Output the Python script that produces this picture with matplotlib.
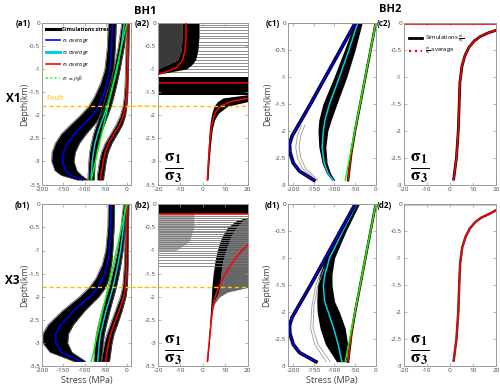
import numpy as np
import matplotlib.pyplot as plt
from matplotlib.patches import ConnectionPatch
from matplotlib.lines import Line2D

plt.rcParams['font.family'] = ['Open Sans', 'DejaVu Sans']
plt.rcParams['mathtext.fontset'] = 'stix'
plt.rcParams['axes.unicode_minus'] = False

FAULT_DEPTH = -1.8

# ---------------- BH1 / X1 : stresses (a1) ----------------
a1_d = [0, -0.5, -1.0, -1.3, -1.6, -1.8, -2.0, -2.2, -2.4, -2.6, -2.8, -3.0, -3.2, -3.3, -3.4]
a1_s1 = [-34, -36, -40, -47, -57, -66, -82, -103, -124, -140, -150, -152, -145, -132, -105]
a1_s1_lo = [-44, -46, -52, -62, -77, -90, -110, -133, -155, -169, -177, -178, -170, -155, -118]
a1_s1_hi = [-25, -27, -31, -36, -43, -50, -61, -77, -96, -112, -122, -125, -118, -107, -92]
a1_s2 = [-6, -13, -23, -31, -40, -46, -54, -62, -69, -75, -79, -82, -83, -84, -84]
a1_s2_lo = [-12, -20, -31, -40, -50, -56, -64, -72, -79, -84, -88, -90, -91, -92, -92]
a1_s2_hi = [0, -6, -16, -23, -31, -37, -45, -53, -61, -67, -72, -75, -76, -77, -77]
a1_s3 = [3, 2, 1, 0, -1, -3, -8, -17, -30, -43, -51, -56, -59, -61, -62]
a1_s3_lo = [-1, -2, -3, -4, -6, -9, -15, -25, -38, -51, -60, -65, -68, -70, -70]
a1_s3_hi = [6, 5, 4, 3, 2, 0, -3, -10, -22, -35, -44, -49, -52, -54, -55]

# ---------------- BH1 / X3 : stresses (b1) ----------------
b1_d = [0, -0.5, -1.0, -1.3, -1.6, -1.8, -2.0, -2.3, -2.6, -2.8, -3.0, -3.2, -3.4]
b1_s1 = [-37, -38, -41, -46, -56, -68, -88, -125, -155, -168, -168, -155, -108]
b1_s1_lo = [-44, -45, -50, -58, -73, -89, -112, -152, -186, -199, -199, -182, -125]
b1_s1_hi = [-29, -30, -33, -36, -42, -50, -66, -99, -126, -138, -140, -130, -97]
b1_s2 = [-3, -8, -15, -21, -28, -33, -39, -49, -57, -62, -65, -67, -69]
b1_s2_lo = [-8, -14, -22, -29, -37, -42, -49, -59, -67, -72, -75, -77, -78]
b1_s2_hi = [1, -3, -9, -14, -20, -25, -31, -40, -48, -53, -56, -58, -60]
b1_s3 = [1, 0, -1, -1, -2, -3, -7, -18, -30, -38, -43, -47, -50]
b1_s3_lo = [-3, -4, -5, -6, -8, -10, -15, -27, -39, -47, -53, -57, -60]
b1_s3_hi = [5, 4, 3, 3, 2, 1, -2, -11, -22, -30, -35, -38, -41]

# sigma_v = rho*g*h, read at the two ends
sv_d_bh1 = [0, -3.4]
sv_bh1 = [0, -84]
sv_d_bh2 = [0, -2.92]
sv_bh2 = [0, -74]

# ---------------- BH1 ratio sigma1/sigma3 (a2) ----------------
a2_top_d = [0, -0.3, -0.6, -0.8, -0.9, -1.0, -1.12]
a2_top_left = [-20, -20, -20, -20, -20, -20, -20]
a2_top_lo = [-9, -9, -9.5, -11, -15, -20, -20]
a2_top_hi = [-1.5, -1.5, -2, -3, -4.5, -7, -20]
a2_avg_top_d = [0, -0.3, -0.6, -0.8, -0.95, -1.05, -1.1]
a2_avg_top = [-7.5, -7.5, -8, -9, -11.5, -16, -20]
a2_inf = [-0.04, -0.09, -0.14, -0.2, -0.27, -0.33, -0.4, -0.47, -0.52, -0.6,
          -0.66, -0.73, -0.8, -0.86, -0.93, -0.99, -1.05]
a2_band = (-1.16, -1.56)
a2_avg_inf = -1.3
a2_bot_d = [-1.55, -1.62, -1.7, -1.8, -1.95, -2.1, -2.3, -2.6, -3.0, -3.4]
a2_bot_lo = [20, 9, 6.5, 5, 4, 3.4, 2.9, 2.5, 2.0, 1.6]
a2_bot_hi = [20, 20, 20, 11, 7, 5.2, 4.2, 3.5, 2.8, 2.3]
a2_avg_d = [-1.63, -1.7, -1.8, -1.9, -2.0, -2.2, -2.5, -3.0, -3.4]
a2_avg = [20, 12.5, 8, 6, 5, 4, 3.2, 2.5, 2]

# ---------------- BH1 / X3 ratio (b2) ----------------
b2_band = (0, -0.2)
b2_avg_inf = -0.22
b2_inf = [-0.26, -0.3, -0.34, -0.38, -0.42, -0.46, -0.5, -0.53, -0.57, -0.61,
          -0.65, -0.69, -0.73, -0.77, -0.81, -0.85, -0.9, -0.95, -1.0, -1.05,
          -1.1, -1.15, -1.2, -1.26, -1.33]
b2_fan_d = [-0.28, -0.35, -0.5, -0.7, -0.9, -1.2, -1.5, -1.8, -1.9, -2.0, -2.15, -2.3, -2.6, -3.0, -3.4]
b2_fan_lo = [20, 15, 11, 8.5, 7, 5.5, 4.6, 4.0, 3.9, 3.8, 3.6, 3.4, 3.0, 2.4, 1.6]
b2_fan_mid = [20, 18, 15, 12.5, 11, 9, 8, 7.5, 7, 6, 4.8, 4.0, 3.5, 2.8, 2.1]
b2_fan_hi = [20, 20, 20, 20, 20, 20, 20, 20, 11, 7.5, 5.2, 4.3, 3.6, 2.9, 2.2]
b2_avg_d = [-0.88, -1.0, -1.2, -1.5, -1.8, -2.0, -2.2, -2.5, -3.0, -3.4]
b2_avg = [20, 17.5, 14, 10, 7, 5.5, 4.5, 3.8, 2.8, 2]
b2_loop_d = [-0.2, -0.5, -0.8, -1.0]
b2_loop_hi = [-4, -4, -6, -12]

# ---------------- BH2 / X1 : stresses (c1) ----------------
c1_s1_d = [0, -0.5, -1.0, -1.5, -1.9, -2.1, -2.25, -2.4, -2.6, -2.75, -2.92]
c1_s1 = [-50, -86, -122, -158, -188, -203, -209, -208, -200, -185, -150]
c1_s2_d = [0, -0.5, -1.0, -1.5, -1.8, -2.0, -2.3, -2.6, -2.8, -2.92]
c1_s2 = [-44, -65, -88, -112, -123, -127, -130, -125, -115, -103]
c1_s2_lo = [-52, -76, -101, -128, -138, -140, -138, -130, -119, -106]
c1_s2_hi = [-33, -50, -70, -94, -108, -116, -121, -118, -109, -99]
c1_gray_d = [-1.9, -2.1, -2.3, -2.5, -2.7, -2.92]
c1_gray = [[-180, -190, -194, -190, -178, -145], [-172, -182, -186, -182, -170, -140]]
c1_s3_d = [0, -1.0, -2.0, -2.4, -2.92]
c1_s3 = [0, -25, -50, -59, -67]

# ---------------- BH2 / X3 : stresses (d1) ----------------
d1_s1 = [-50, -86, -122, -158, -188, -203, -209, -208, -200, -185, -145]
d1_s2_d = [0, -0.5, -1.0, -1.3, -1.5, -1.8, -2.0, -2.3, -2.6, -2.92]
d1_s2 = [-46, -80, -112, -123, -127, -124, -115, -102, -91, -82]
d1_s2_lo = [-52, -88, -122, -136, -141, -143, -142, -135, -122, -95]
d1_s2_hi = [-40, -72, -100, -106, -106, -100, -88, -74, -68, -72]
d1_gray_d = [-1.2, -1.5, -1.9, -2.3, -2.6, -2.92]
d1_gray = [[-125, -140, -150, -152, -140, -110], [-130, -145, -155, -158, -148, -120]]

# ---------------- BH2 ratio (c2, d2) ----------------
c2_d = [-2.9, -2.5, -2.0, -1.5, -1.1, -0.8, -0.6, -0.45, -0.33, -0.25, -0.18, -0.13]
c2_avg = [1.6, 2.8, 3.6, 4.0, 4.3, 5.2, 6.5, 8.2, 10.5, 13, 16.5, 20]
c2_inf = -0.02
d2_d = [-2.9, -2.5, -2.0, -1.5, -1.1, -0.8, -0.6, -0.45, -0.33, -0.25, -0.18, -0.11]
d2_avg = [1.6, 2.8, 3.6, 4.0, 4.4, 5.3, 6.8, 8.6, 11, 13.5, 17, 20]

BLUE = '#0000ff'
CYAN = '#00d0e0'
RED = '#ff0000'
GREEN = '#00ff00'
FAULT = '#ffc000'
AXC = '#9a9a9a'
TXC = '#404040'

fig = plt.figure(figsize=(5.0, 3.91), dpi=100)


def make_ax(rect, xlim, ylim, xticks, yticks):
    ax = fig.add_axes(rect)
    ax.set_xlim(xlim)
    ax.set_ylim(ylim)
    ax.set_xticks(xticks)
    ax.set_yticks(yticks)
    ax.set_xticklabels(['%g' % t for t in xticks])
    ax.set_yticklabels(['%g' % t for t in yticks])
    ax.tick_params(direction='in', length=2, width=0.5, colors=AXC,
                   labelcolor=TXC, labelsize=4.6, pad=1.5, top=True, right=True)
    for s in ax.spines.values():
        s.set_color(AXC)
        s.set_linewidth(0.7)
    return ax


def bundle(ax, d, lo, hi, avg, col):
    ax.fill_betweenx(d, lo, hi, color='black', lw=0)
    ax.plot(lo, d, color='#555555', lw=0.5)
    ax.plot(hi, d, color='#555555', lw=0.5)
    ax.plot(avg, d, color=col, lw=1.1)


W, H = 500.0, 391.0
top_a, bot_a = 23.3, 184.5
top_b, bot_b = 204.3, 366.0
rect = lambda x0, x1, y0, y1: [x0 / W, 1 - y1 / H, (x1 - x0) / W, (y1 - y0) / H]

st_ticks = [-200, -150, -100, -50, 0]
r_ticks = [-20, -10, 0, 10, 20]
y35 = [-3.5, -3, -2.5, -2, -1.5, -1, -0.5, 0]
y3 = [-3, -2.5, -2, -1.5, -1, -0.5, 0]

ax_a1 = make_ax(rect(42.3, 131, top_a, bot_a), (-200, 10), (-3.5, 0), st_ticks, y35)
ax_a2 = make_ax(rect(158, 247.7, top_a, bot_a), (-20, 20), (-3.5, 0), r_ticks, y35)
ax_b1 = make_ax(rect(42.3, 131, top_b, bot_b), (-200, 10), (-3.5, 0), st_ticks, y35)
ax_b2 = make_ax(rect(158, 247.7, top_b, bot_b), (-20, 20), (-3.5, 0), r_ticks, y35)
ax_c1 = make_ax(rect(288.3, 375.7, top_a, bot_a), (-212, 0), (-3, 0), st_ticks, y3)
ax_c2 = make_ax(rect(404, 496, top_a, bot_a), (-20, 20), (-3, 0), r_ticks, y3)
ax_d1 = make_ax(rect(288.3, 375.7, top_b, bot_b), (-212, 0), (-3, 0), st_ticks, y3)
ax_d2 = make_ax(rect(404, 496, top_b, bot_b), (-20, 20), (-3, 0), r_ticks, y3)

# ---- a1 ----
bundle(ax_a1, a1_d, a1_s1_lo, a1_s1_hi, a1_s1, BLUE)
bundle(ax_a1, a1_d, a1_s2_lo, a1_s2_hi, a1_s2, CYAN)
bundle(ax_a1, a1_d, a1_s3_lo, a1_s3_hi, a1_s3, RED)
ax_a1.plot(sv_bh1, sv_d_bh1, color=GREEN, lw=1.0)

# ---- b1 ----
bundle(ax_b1, b1_d, b1_s1_lo, b1_s1_hi, b1_s1, BLUE)
bundle(ax_b1, b1_d, b1_s2_lo, b1_s2_hi, b1_s2, CYAN)
bundle(ax_b1, b1_d, b1_s3_lo, b1_s3_hi, b1_s3, RED)
ax_b1.plot(sv_bh1, sv_d_bh1, color=GREEN, lw=1.0)

# ---- a2 ----
for y in a2_inf:
    ax_a2.axhline(y, color='#7a7a7a', lw=0.6, zorder=1)
ax_a2.fill_betweenx(a2_top_d, a2_top_left, a2_top_lo, facecolor='#3a3a3a',
                    edgecolor='none', zorder=2)
ax_a2.fill_betweenx(a2_top_d, a2_top_lo, a2_top_hi, facecolor='black',
                    edgecolor='none', zorder=2)
ax_a2.axhspan(a2_band[1], a2_band[0], color='black', lw=0)
ax_a2.fill_betweenx(a2_bot_d, a2_bot_lo, a2_bot_hi, color='black', lw=0)
ax_a2.plot(a2_avg_top, a2_avg_top_d, color=RED, lw=1.1, zorder=3)
ax_a2.axhline(a2_avg_inf, color=RED, lw=1.1)
ax_a2.plot(a2_avg, a2_avg_d, color=RED, lw=1.1)

# ---- b2 ----
for y in b2_inf:
    ax_b2.axhline(y, color='#7a7a7a', lw=0.6)
ax_b2.fill_betweenx(b2_loop_d, -20, b2_loop_hi, color='#555555', alpha=0.5, lw=0)
ax_b2.axhspan(b2_band[1], b2_band[0], color='black', lw=0)
ax_b2.fill_betweenx(b2_fan_d, b2_fan_mid, b2_fan_hi, color='#333333', alpha=0.75, lw=0)
ax_b2.fill_betweenx(b2_fan_d, b2_fan_lo, b2_fan_mid, color='black', lw=0)
ax_b2.axhline(b2_avg_inf, color=RED, lw=1.1)
ax_b2.plot(b2_avg, b2_avg_d, color=RED, lw=1.1)

# ---- fault ----
for axl, axr in [(ax_a1, ax_a2), (ax_b1, ax_b2)]:
    axl.axhline(FAULT_DEPTH, color=FAULT, lw=1.0, ls=(0, (3, 2)))
    axr.axhline(FAULT_DEPTH, color=FAULT, lw=1.0, ls=(0, (3, 2)))
    con = ConnectionPatch(xyA=(axl.get_xlim()[1], FAULT_DEPTH), coordsA=axl.transData,
                          xyB=(axr.get_xlim()[0], FAULT_DEPTH), coordsB=axr.transData,
                          color=FAULT, lw=1.0, ls=(0, (3, 2)))
    fig.add_artist(con)
ax_a1.text(-190, -1.66, 'Fault', color=FAULT, fontsize=5.5)

# ---- c1 / d1 ----
for ax, s1, s2d, s2, lo, hi, gd, gr in [
        (ax_c1, c1_s1, c1_s2_d, c1_s2, c1_s2_lo, c1_s2_hi, c1_gray_d, c1_gray),
        (ax_d1, d1_s1, d1_s2_d, d1_s2, d1_s2_lo, d1_s2_hi, d1_gray_d, d1_gray)]:
    for g in gr:
        ax.plot(g, gd, color='#999999', lw=0.6)
    ax.fill_betweenx(s2d, lo, hi, color='black', lw=0)
    ax.plot(s2, s2d, color=CYAN, lw=1.1)
    ax.plot(s1, c1_s1_d, color='black', lw=2.6)
    ax.plot(s1, c1_s1_d, color=BLUE, lw=1.1)
    ax.plot(c1_s3, c1_s3_d, color='black', lw=1.8)
    ax.plot(c1_s3, c1_s3_d, color=RED, lw=1.0)
    ax.plot(sv_bh2, sv_d_bh2, color=GREEN, lw=1.0)

# ---- c2 / d2 ----
ax_c2.axhspan(-0.04, 0, color='#c8c8c8', lw=0)
ax_c2.axhline(c2_inf, color=RED, lw=1.1)
ax_c2.plot(c2_avg, c2_d, color='black', lw=2.0)
ax_c2.plot(c2_avg, c2_d, color=RED, lw=1.1)
ax_d2.axhspan(-0.04, 0, color='#c8c8c8', lw=0)
ax_d2.plot(d2_avg, d2_d, color='#333333', lw=1.8)
ax_d2.plot(d2_avg, d2_d, color=RED, lw=1.1)

# ---- legends ----
h = [Line2D([], [], color='black', lw=2.2),
     Line2D([], [], color=BLUE, lw=1.2),
     Line2D([], [], color=CYAN, lw=2.2),
     Line2D([], [], color=RED, lw=1.2),
     Line2D([], [], color=GREEN, lw=1.2, ls=':')]
lab = ['Simulations stress', r'$\sigma_1$ average', r'$\sigma_2$ average',
       r'$\sigma_3$ average', r'$\sigma_v\,=\,\rho g h$']
leg = ax_a1.legend(h, lab, loc='upper left', fontsize=4.0, frameon=False,
                   handlelength=2.4, handletextpad=0.4, labelspacing=0.6,
                   borderaxespad=0.3, bbox_to_anchor=(0.0, 1.0))
leg.get_texts()[0].set_fontweight('bold')
for t in leg.get_texts()[1:]:
    t.set_fontstyle('italic')

h2 = [Line2D([], [], color='black', lw=2.0), Line2D([], [], color=RED, lw=1.6, ls=':')]
lab2 = [r'Simulations $\frac{\sigma_1}{\sigma_3}$', r'$\frac{\sigma_1}{\sigma_3}$ average']
ax_c2.legend(h2, lab2, loc='upper left', fontsize=4.2, frameon=False,
             handlelength=2.2, handletextpad=0.4, labelspacing=0.2,
             borderaxespad=0.2, bbox_to_anchor=(0.02, 0.96))

# ---- big ratio labels ----
for ax in [ax_a2, ax_b2, ax_c2, ax_d2]:
    ax.text(0.17, 0.10, r'$\mathbf{\frac{\sigma_1}{\sigma_3}}$', transform=ax.transAxes,
            fontsize=18, ha='center', va='center', color='black')

# ---- labels ----
for ax, xp in [(ax_a1, 25), (ax_b1, 25), (ax_c1, 268), (ax_d1, 267)]:
    bb = ax.get_position()
    fig.text(xp / W, bb.y0 + bb.height / 2, 'Depth(km)', fontsize=6.3, color=TXC,
             rotation=90, ha='center', va='center')
for ax in [ax_b1, ax_d1]:
    ax.set_xlabel('Stress (MPa)', fontsize=6.5, color=TXC, labelpad=2)

fig.text(145 / W, 1 - 11 / H, 'BH1', fontsize=8, fontweight='bold', ha='center', va='center')
fig.text(390 / W, 1 - 9 / H, 'BH2', fontsize=8, fontweight='bold', ha='center', va='center')
fig.text(13 / W, 1 - 99 / H, 'X1', fontsize=8.5, fontweight='bold', ha='center', va='center')
fig.text(12 / W, 1 - 280 / H, 'X3', fontsize=8.5, fontweight='bold', ha='center', va='center')
for name, x, y in [('(a1)', 23, 24), ('(a2)', 142, 24), ('(c1)', 273, 24), ('(c2)', 384, 24),
                   ('(b1)', 22, 206), ('(b2)', 142, 206), ('(d1)', 272, 205), ('(d2)', 384, 205)]:
    fig.text(x / W, 1 - y / H, name, fontsize=5.8, fontweight='bold', ha='center', va='center')

fig.savefig('out.png', dpi=100)
